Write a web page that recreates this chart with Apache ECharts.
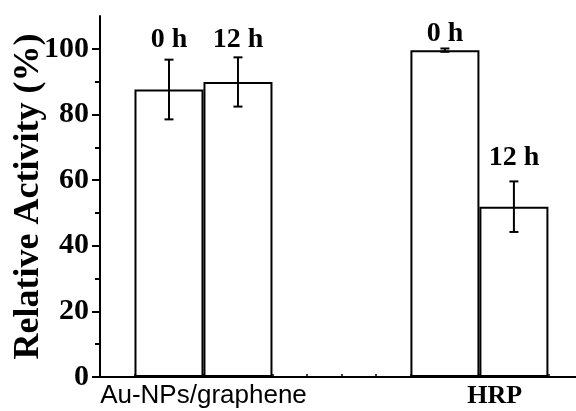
<!DOCTYPE html>
<html>
<head>
<meta charset="utf-8">
<script src="https://cdn.jsdelivr.net/npm/echarts@6/dist/echarts.min.js"></script>
<style>html,body{margin:0;padding:0;background:#fff}#c{width:576px;height:411px}</style>
</head>
<body>
<div id="c"></div>
<script>
// ---- data ----
const groups = ['Au-NPs/graphene', 'HRP'];
const groupCenters = [3, 11.44];
const barX = [2, 4, 10, 12];
const times = ['0 h', '12 h', '0 h', '12 h'];
const activity = [87.6, 89.9, 99.6, 51.9];
const errors = [9.1, 7.5, 0.5, 7.7];
const labelY = [98.6, 98.6, 100.4, 62.4];
const yTicks = [0, 20, 40, 60, 80, 100];
const yMinorTicks = [10, 30, 50, 70, 90];
const xTicks = [1,2,3,4,5,6,7,8,9,10,11,12,13];

const chart = echarts.init(document.getElementById('c'), null, {renderer: 'canvas'});
const serif = 'Liberation Serif';

const option = {
  animation: false,
  grid: {left: 100, right: 0, top: 16, bottom: 34, containLabel: false, outerBoundsMode: 'none'},
  xAxis: [{
    type: 'value', min: 0, max: 13.8, position: 'bottom',
    axisLine: {show: true, lineStyle: {color: '#000', width: 2}},
    axisTick: {show: true, inside: true, length: 3, customValues: xTicks, lineStyle: {color: '#000', width: 1.5}},
    splitLine: {show: false},
    axisLabel: {
      show: true, customValues: groupCenters, margin: 6,
      formatter: function (v) {
        const i = groupCenters.indexOf(v);
        if (i === 0) return '{a|' + groups[0] + '}';
        if (i === 1) return '{b|' + groups[1] + '}';
        return '';
      },
      rich: {
        a: {fontFamily: 'Liberation Sans', fontSize: 26, color: '#000'},
        b: {fontFamily: serif, fontWeight: 'bold', fontSize: 26, color: '#000'}
      }
    }
  }, {
    type: 'value', min: 0, max: 13.8, position: 'top',
    axisLine: {show: true, lineStyle: {color: '#000', width: 2}},
    axisTick: {show: false}, axisLabel: {show: false}, splitLine: {show: false}
  }],
  yAxis: [{
    type: 'value', min: 0, max: 110, position: 'left',
    name: 'Relative Activity (%)', nameLocation: 'middle', nameGap: 53, nameMoveOverlap: false,
    nameTextStyle: {fontFamily: serif, fontWeight: 'bold', fontSize: 36, color: '#000'},
    axisLine: {show: true, lineStyle: {color: '#000', width: 2}},
    axisTick: {show: true, inside: false, length: 8, customValues: yTicks, lineStyle: {color: '#000', width: 2}},
    axisLabel: {show: true, customValues: yTicks, margin: 11, fontFamily: serif, fontWeight: 'bold', fontSize: 30, color: '#000'},
    splitLine: {show: false}
  }, {
    type: 'value', min: 0, max: 110, position: 'left',
    axisLine: {show: false},
    axisTick: {show: true, inside: false, length: 5, customValues: yMinorTicks, lineStyle: {color: '#000', width: 2}},
    axisLabel: {show: false}, splitLine: {show: false}
  }],
  series: [{
    type: 'bar',
    xAxisIndex: 0, yAxisIndex: 0,
    barWidth: 69,
    data: barX.map((x, i) => [x, activity[i]]),
    itemStyle: {color: '#fff', borderColor: '#000', borderWidth: 2},
    z: 2
  }, {
    type: 'custom',
    xAxisIndex: 0, yAxisIndex: 0,
    data: barX.map((x, i) => [x, activity[i] - errors[i], activity[i] + errors[i]]),
    renderItem: function (params, api) {
      const lo = api.coord([api.value(0), api.value(1)]);
      const hi = api.coord([api.value(0), api.value(2)]);
      const cap = 4.5;
      const st = {stroke: '#000', lineWidth: 2, fill: null};
      return {type: 'group', children: [
        {type: 'line', shape: {x1: lo[0], y1: lo[1], x2: hi[0], y2: hi[1]}, style: st},
        {type: 'line', shape: {x1: lo[0] - cap, y1: lo[1], x2: lo[0] + cap, y2: lo[1]}, style: st},
        {type: 'line', shape: {x1: hi[0] - cap, y1: hi[1], x2: hi[0] + cap, y2: hi[1]}, style: st}
      ]};
    },
    z: 3
  }, {
    type: 'custom',
    xAxisIndex: 0, yAxisIndex: 0,
    data: barX.map((x, i) => [x, labelY[i], i]),
    renderItem: function (params, api) {
      const p = api.coord([api.value(0), api.value(1)]);
      return {type: 'text', x: p[0], y: p[1], style: {
        text: times[api.value(2)], textAlign: 'center', textVerticalAlign: 'bottom',
        font: 'bold 28px "Liberation Serif"', fill: '#000'
      }};
    },
    z: 4
  }]
};
chart.setOption(option);
</script>
</body>
</html>
